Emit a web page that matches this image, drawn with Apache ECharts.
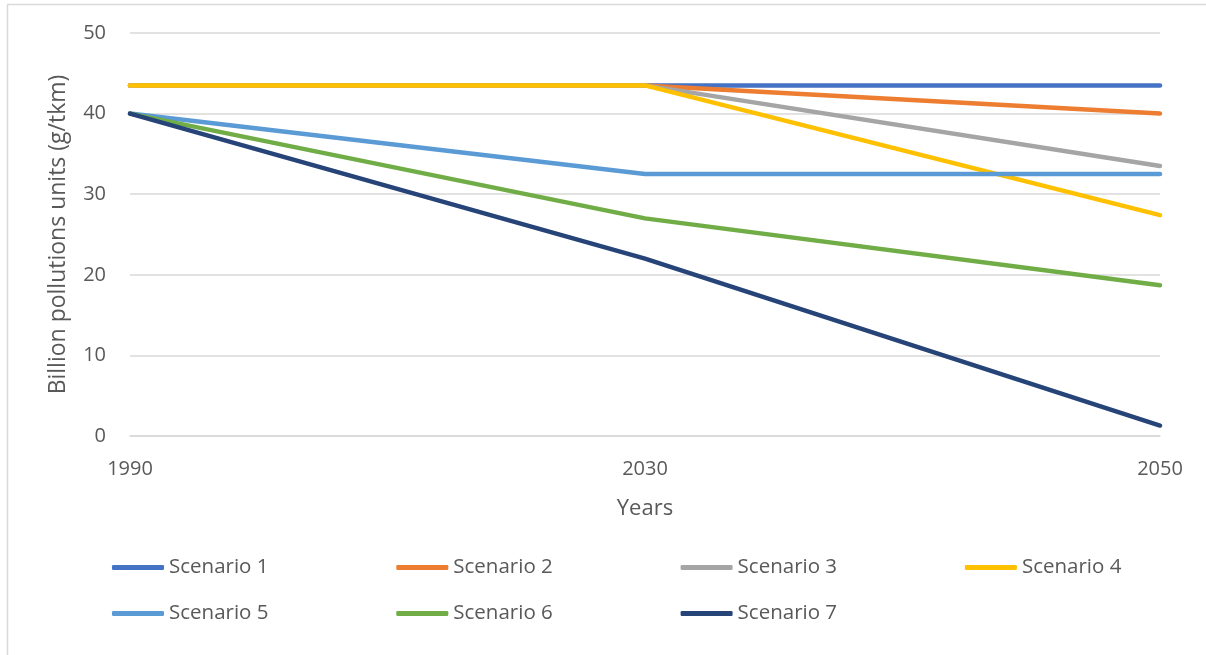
<!DOCTYPE html>
<html>
<head>
<meta charset="utf-8">
<script src="https://cdn.jsdelivr.net/npm/echarts@6/dist/echarts.min.js"></script>
<style>
  html, body { margin: 0; padding: 0; background: #fff; }
  #chart { width: 1206px; height: 655px; }
</style>
</head>
<body>
<div id="chart"></div>
<script>
// data
const years = ['1990', '2030', '2050'];
const seriesNames = ['Scenario 1', 'Scenario 2', 'Scenario 3', 'Scenario 4', 'Scenario 5', 'Scenario 6', 'Scenario 7'];
const scenario1 = [43.5, 43.5, 43.5];
const scenario2 = [43.5, 43.5, 40.0];
const scenario3 = [43.5, 43.5, 33.5];
const scenario4 = [43.5, 43.5, 27.4];
const scenario5 = [40.0, 32.5, 32.5];
const scenario6 = [40.0, 27.0, 18.7];
const scenario7 = [40.0, 22.0, 1.3];
const yTicks = [0, 10, 20, 30, 40, 50];

const values = [scenario1, scenario2, scenario3, scenario4, scenario5, scenario6, scenario7];
const colors = ['#4472C4', '#ED7D31', '#A5A5A5', '#FFC000', '#5B9BD5', '#70AD47', '#264478'];
const font = '"Open Sans", Lato, sans-serif';
const grey = '#595959';

let myChart = echarts.init(document.getElementById('chart'));

// one legend per item so it lays out in a 4 column grid like Excel does
const legends = seriesNames.map((name, i) => ({
  data: [name],
  left: 112 + (i % 4) * 284.3,
  top: (i < 4 ? 567 : 613) - 10,
  icon: 'roundRect',
  itemWidth: 52,
  itemHeight: 5,
  padding: 0,
  textStyle: { color: grey, fontSize: 20.5, fontFamily: font }
}));

const option = {
  backgroundColor: '#fff',
  animation: false,
  color: colors,
  graphic: [{
    type: 'rect',
    shape: { x: 7.5, y: 4.5, width: 1300, height: 800 },
    style: { fill: 'none', stroke: '#d9d9d9', lineWidth: 1.5 },
    silent: true
  }],
  legend: legends,
  grid: { left: 130, right: 46, top: 33, bottom: 219 },
  xAxis: {
    type: 'category',
    data: years,
    boundaryGap: false,
    name: 'Years',
    nameLocation: 'middle',
    nameGap: 62,
    nameTextStyle: { color: grey, fontSize: 22, fontFamily: font },
    axisTick: { show: false },
    axisLine: { lineStyle: { color: '#d9d9d9', width: 1.5 } },
    axisLabel: { color: grey, fontSize: 20, fontFamily: font, margin: 23 }
  },
  yAxis: {
    type: 'value',
    min: yTicks[0],
    max: yTicks[yTicks.length - 1],
    interval: 10,
    name: 'Billion pollutions units (g/tkm)',
    nameLocation: 'middle',
    nameGap: 60,
    nameTextStyle: { color: grey, fontSize: 23, fontFamily: font },
    axisLabel: { color: grey, fontSize: 20, fontFamily: font, margin: 24 },
    splitLine: { lineStyle: { color: '#d9d9d9', width: 1.5 } }
  },
  series: seriesNames.map((name, i) => ({
    name: name,
    type: 'line',
    data: values[i],
    showSymbol: false,
    symbol: 'none',
    lineStyle: { width: 4.5, cap: 'round', join: 'round' }
  }))
};

myChart.setOption(option);
window.onresize = function() {
  myChart.resize();
};
</script>
</body>
</html>
